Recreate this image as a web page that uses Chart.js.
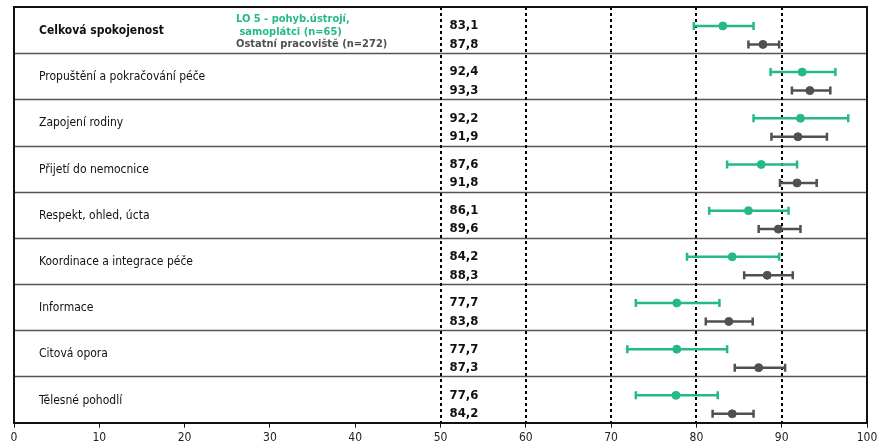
<!DOCTYPE html>
<html>
<head>
<meta charset="utf-8">
<script src="https://cdn.jsdelivr.net/npm/chart.js@4"></script>
<style>
  html, body { margin: 0; padding: 0; background: #fff; }
  #wrap { width: 881px; height: 448px; }
</style>
</head>
<body>
<div id="wrap"><canvas id="myChart"></canvas></div>
<script>
const categories = ['Celková spokojenost', 'Propuštění a pokračování péče', 'Zapojení rodiny', 'Přijetí do nemocnice',
  'Respekt, ohled, úcta', 'Koordinace a integrace péče', 'Informace', 'Citová opora', 'Tělesné pohodlí'];
const lo5 = [83.1, 92.4, 92.2, 87.6, 86.1, 84.2, 77.7, 77.7, 77.6];
const lo5Low = [79.7, 88.7, 86.7, 83.6, 81.5, 78.9, 72.9, 71.9, 72.9];
const lo5High = [86.7, 96.3, 97.8, 91.8, 90.8, 89.7, 82.7, 83.6, 82.5];
const other = [87.8, 93.3, 91.9, 91.8, 89.6, 88.3, 83.8, 87.3, 84.2];
const otherLow = [86.1, 91.2, 88.8, 89.8, 87.3, 85.6, 81.1, 84.5, 81.9];
const otherHigh = [89.7, 95.7, 95.3, 94.1, 92.2, 91.3, 86.6, 90.4, 86.7];
const refLines = [50, 60, 70, 80, 90];

const green = '#25b987';
const grey = '#505050';
const font = '"DejaVu Sans Condensed", "DejaVu Sans", sans-serif';

// row offsets inside each band
const offGreen = 0.41;
const offGrey = 0.81;

const fmt = (v) => v.toFixed(1).replace('.', ',');

const rowsPlugin = {
  id: 'rows',
  beforeDatasetsDraw(chart) {
    const { ctx, chartArea: a, scales: { x, y } } = chart;
    ctx.save();
    // row separators
    ctx.strokeStyle = '#555';
    ctx.lineWidth = 1.5;
    for (let i = 1; i < categories.length; i++) {
      const py = Math.round(y.getPixelForValue(i)) + 0.5;
      ctx.beginPath();
      ctx.moveTo(a.left, py);
      ctx.lineTo(a.right, py);
      ctx.stroke();
    }
    // dotted reference lines
    ctx.strokeStyle = '#000';
    ctx.lineWidth = 2;
    ctx.setLineDash([3, 3]);
    refLines.forEach((v) => {
      const px = Math.round(x.getPixelForValue(v));
      ctx.beginPath();
      ctx.moveTo(px, a.top);
      ctx.lineTo(px, a.bottom);
      ctx.stroke();
    });
    ctx.setLineDash([]);
    // frame
    ctx.strokeStyle = '#111';
    ctx.lineWidth = 2;
    ctx.beginPath();
    ctx.moveTo(a.left, a.bottom);
    ctx.lineTo(a.left, a.top);
    ctx.lineTo(a.right, a.top);
    ctx.lineTo(a.right, a.bottom);
    ctx.stroke();

    // error bars
    const bars = (lo, hi, off, col) => {
      ctx.strokeStyle = col;
      ctx.lineWidth = 2.5;
      categories.forEach((c, i) => {
        const py = y.getPixelForValue(i + off);
        const x1 = x.getPixelForValue(lo[i]);
        const x2 = x.getPixelForValue(hi[i]);
        ctx.beginPath();
        ctx.moveTo(x1, py);
        ctx.lineTo(x2, py);
        ctx.moveTo(x1, py - 4);
        ctx.lineTo(x1, py + 4);
        ctx.moveTo(x2, py - 4);
        ctx.lineTo(x2, py + 4);
        ctx.stroke();
      });
    };
    bars(lo5Low, lo5High, offGreen, green);
    bars(otherLow, otherHigh, offGrey, grey);
    ctx.restore();
  },
  afterDatasetsDraw(chart) {
    const { ctx, chartArea: a, scales: { x, y } } = chart;
    ctx.save();
    ctx.textBaseline = 'middle';
    ctx.textAlign = 'left';
    categories.forEach((c, i) => {
      ctx.fillStyle = '#111';
      ctx.font = (i === 0 ? 'bold ' : '') + '12px ' + font;
      ctx.fillText(c, a.left + 25, y.getPixelForValue(i + 0.52));
      ctx.font = 'bold 13px ' + font;
      const vx = x.getPixelForValue(50) + 9;
      ctx.fillText(fmt(lo5[i]), vx, y.getPixelForValue(i + offGreen));
      ctx.fillText(fmt(other[i]), vx, y.getPixelForValue(i + offGrey));
    });
    // legend
    ctx.font = 'bold 11px ' + font;
    ctx.fillStyle = green;
    ctx.fillText('LO 5 - pohyb.ústrojí,', a.left + 222, a.top + 12);
    ctx.fillText(' samoplátci (n=65)', a.left + 222, a.top + 25);
    ctx.fillStyle = grey;
    ctx.fillText('Ostatní pracoviště (n=272)', a.left + 222, a.top + 37);
    ctx.restore();
  }
};

new Chart(document.getElementById('myChart'), {
  type: 'scatter',
  data: {
    datasets: [
      {
        label: 'LO 5 - pohyb.ústrojí, samoplátci (n=65)',
        data: lo5.map((v, i) => ({ x: v, y: i + offGreen })),
        backgroundColor: green,
        borderColor: green,
        pointRadius: 4
      },
      {
        label: 'Ostatní pracoviště (n=272)',
        data: other.map((v, i) => ({ x: v, y: i + offGrey })),
        backgroundColor: grey,
        borderColor: grey,
        pointRadius: 4
      }
    ]
  },
  options: {
    responsive: true,
    maintainAspectRatio: false,
    animation: false,
    layout: { padding: { left: 14, right: 14, top: 7, bottom: 0 } },
    plugins: { legend: { display: false }, tooltip: { enabled: false } },
    scales: {
      x: {
        min: 0,
        max: 100,
        ticks: { stepSize: 10, color: '#222', font: { family: font, size: 12 }, padding: 3 },
        grid: { drawOnChartArea: false, color: '#111', tickLength: 5 },
        border: { color: '#111', width: 2 }
      },
      y: {
        display: false,
        min: 0,
        max: categories.length,
        reverse: true
      }
    }
  },
  plugins: [rowsPlugin]
});
</script>
</body>
</html>
